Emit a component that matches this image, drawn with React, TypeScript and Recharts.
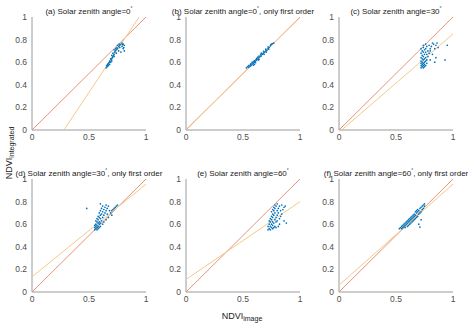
import { ScatterChart, Scatter, XAxis, YAxis } from "recharts";

type Pt = [number, number];

// panel titles and angle text (degree sign is drawn as a superscript)
const panelTitles: [string, string][] = [
  ["(a) Solar zenith angle=0", ""],
  ["(b) Solar zenith angle=0", ", only first order"],
  ["(c) Solar zenith angle=30", ""],
  ["(d) Solar zenith angle=30", ", only first order"],
  ["(e) Solar zenith angle=60", ""],
  ["(f) Solar zenith angle=60", ", only first order"],
];

const xTicks = [0, 0.5, 1];
const yTicks = [0, 0.2, 0.4, 0.6, 0.8, 1];

// fitted lines, [slope, intercept]
const fitLines: Pt[] = [
  [1.515, -0.424],
  [0.99, 0.005],
  [0.87, -0.02],
  [0.82, 0.134],
  [0.69, 0.11],
  [0.895, 0.06],
];

const pointsA: Pt[] = [
  [0.65, 0.55], [0.66, 0.56], [0.655, 0.57], [0.67, 0.57], [0.665, 0.58], [0.68, 0.58],
  [0.67, 0.59], [0.685, 0.6], [0.68, 0.61], [0.69, 0.6], [0.695, 0.62], [0.69, 0.63],
  [0.7, 0.63], [0.705, 0.64], [0.71, 0.65], [0.7, 0.66], [0.715, 0.66], [0.72, 0.67],
  [0.71, 0.68], [0.725, 0.69], [0.73, 0.7], [0.72, 0.71], [0.74, 0.71], [0.735, 0.72],
  [0.75, 0.72], [0.745, 0.73], [0.76, 0.74], [0.75, 0.75], [0.77, 0.75], [0.765, 0.76],
  [0.78, 0.76], [0.79, 0.77], [0.8, 0.76], [0.81, 0.75], [0.79, 0.74], [0.8, 0.72],
  [0.81, 0.7], [0.78, 0.69], [0.76, 0.7], [0.66, 0.575], [0.675, 0.595], [0.7, 0.61],
  [0.72, 0.65], [0.74, 0.68], [0.77, 0.73], [0.795, 0.755], [0.805, 0.73],
];

const pointsB: Pt[] = [
  [0.53, 0.55], [0.54, 0.56], [0.55, 0.555], [0.55, 0.57], [0.56, 0.565], [0.565, 0.58],
  [0.57, 0.57], [0.58, 0.585], [0.58, 0.6], [0.59, 0.59], [0.595, 0.605], [0.6, 0.6],
  [0.6, 0.615], [0.61, 0.61], [0.615, 0.625], [0.62, 0.62], [0.62, 0.635], [0.63, 0.63],
  [0.63, 0.645], [0.64, 0.64], [0.64, 0.655], [0.65, 0.65], [0.655, 0.665], [0.66, 0.655],
  [0.665, 0.675], [0.67, 0.67], [0.68, 0.68], [0.68, 0.695], [0.69, 0.69], [0.7, 0.7],
  [0.7, 0.715], [0.71, 0.705], [0.72, 0.72], [0.72, 0.735], [0.73, 0.73], [0.74, 0.745],
  [0.745, 0.755], [0.75, 0.76], [0.76, 0.765], [0.77, 0.77], [0.57, 0.585], [0.59, 0.575],
  [0.61, 0.595], [0.635, 0.62], [0.66, 0.68], [0.685, 0.67], [0.705, 0.69], [0.725, 0.715],
  [0.6, 0.58], [0.64, 0.625],
];

const pointsC: Pt[] = [
  [0.72, 0.55], [0.73, 0.56], [0.74, 0.55], [0.75, 0.56], [0.72, 0.57], [0.74, 0.57],
  [0.76, 0.57], [0.73, 0.58], [0.75, 0.58], [0.72, 0.59], [0.74, 0.59], [0.77, 0.59],
  [0.73, 0.6], [0.75, 0.6], [0.76, 0.61], [0.72, 0.61], [0.74, 0.62], [0.77, 0.62],
  [0.73, 0.63], [0.75, 0.63], [0.72, 0.64], [0.76, 0.64], [0.74, 0.65], [0.78, 0.65],
  [0.73, 0.66], [0.75, 0.67], [0.77, 0.67], [0.72, 0.68], [0.74, 0.69], [0.76, 0.69],
  [0.79, 0.68], [0.73, 0.7], [0.75, 0.71], [0.78, 0.7], [0.72, 0.72], [0.74, 0.73],
  [0.76, 0.72], [0.8, 0.72], [0.77, 0.74], [0.79, 0.75], [0.81, 0.74], [0.83, 0.76],
  [0.85, 0.75], [0.82, 0.77], [0.86, 0.77], [0.8, 0.7], [0.84, 0.72], [0.87, 0.73],
  [0.82, 0.67], [0.85, 0.64], [0.8, 0.62], [0.84, 0.6], [0.93, 0.62], [0.95, 0.75],
  [0.74, 0.75], [0.76, 0.76],
];

const pointsD: Pt[] = [
  [0.55, 0.55], [0.56, 0.56], [0.57, 0.55], [0.58, 0.56], [0.55, 0.57], [0.57, 0.57],
  [0.59, 0.57], [0.56, 0.58], [0.58, 0.58], [0.6, 0.58], [0.55, 0.59], [0.57, 0.59],
  [0.59, 0.6], [0.56, 0.6], [0.58, 0.61], [0.6, 0.61], [0.57, 0.62], [0.59, 0.62],
  [0.56, 0.63], [0.58, 0.64], [0.61, 0.63], [0.6, 0.65], [0.57, 0.65], [0.59, 0.66],
  [0.62, 0.66], [0.58, 0.67], [0.6, 0.68], [0.63, 0.68], [0.61, 0.69], [0.59, 0.7],
  [0.62, 0.71], [0.64, 0.7], [0.6, 0.72], [0.63, 0.73], [0.65, 0.72], [0.61, 0.74],
  [0.64, 0.75], [0.66, 0.74], [0.62, 0.76], [0.65, 0.77], [0.67, 0.76], [0.68, 0.72],
  [0.66, 0.69], [0.69, 0.7], [0.7, 0.72], [0.71, 0.73], [0.72, 0.74], [0.73, 0.75],
  [0.74, 0.76], [0.75, 0.77], [0.7, 0.68], [0.67, 0.66], [0.65, 0.64], [0.63, 0.62],
  [0.62, 0.6], [0.48, 0.74], [0.6, 0.78],
];

const pointsE: Pt[] = [
  [0.72, 0.55], [0.74, 0.55], [0.76, 0.56], [0.73, 0.56], [0.75, 0.57], [0.77, 0.57],
  [0.72, 0.58], [0.74, 0.58], [0.76, 0.59], [0.78, 0.58], [0.73, 0.6], [0.75, 0.6],
  [0.77, 0.61], [0.74, 0.62], [0.76, 0.62], [0.79, 0.62], [0.73, 0.63], [0.75, 0.64],
  [0.78, 0.64], [0.8, 0.63], [0.74, 0.65], [0.76, 0.66], [0.79, 0.66], [0.82, 0.65],
  [0.75, 0.67], [0.77, 0.68], [0.8, 0.68], [0.83, 0.67], [0.76, 0.69], [0.78, 0.7],
  [0.81, 0.7], [0.84, 0.69], [0.75, 0.71], [0.77, 0.72], [0.8, 0.72], [0.83, 0.72],
  [0.76, 0.73], [0.78, 0.74], [0.81, 0.74], [0.85, 0.73], [0.77, 0.75], [0.79, 0.76],
  [0.82, 0.76], [0.86, 0.75], [0.78, 0.77], [0.8, 0.78], [0.84, 0.77], [0.87, 0.76],
  [0.88, 0.61], [0.86, 0.63], [0.82, 0.6], [0.81, 0.58], [0.79, 0.57],
];

const pointsF: Pt[] = [
  [0.53, 0.56], [0.54, 0.57], [0.55, 0.56], [0.56, 0.57], [0.55, 0.58], [0.57, 0.58],
  [0.58, 0.57], [0.56, 0.59], [0.58, 0.59], [0.6, 0.58], [0.57, 0.6], [0.59, 0.6],
  [0.61, 0.59], [0.58, 0.61], [0.6, 0.61], [0.62, 0.6], [0.59, 0.62], [0.61, 0.62],
  [0.63, 0.61], [0.6, 0.63], [0.62, 0.63], [0.64, 0.62], [0.61, 0.64], [0.63, 0.64],
  [0.65, 0.63], [0.62, 0.65], [0.64, 0.65], [0.66, 0.64], [0.63, 0.66], [0.65, 0.66],
  [0.67, 0.65], [0.64, 0.67], [0.66, 0.67], [0.68, 0.66], [0.65, 0.68], [0.67, 0.68],
  [0.69, 0.67], [0.66, 0.69], [0.68, 0.7], [0.7, 0.69], [0.67, 0.71], [0.69, 0.71],
  [0.71, 0.7], [0.68, 0.72], [0.7, 0.72], [0.72, 0.71], [0.69, 0.73], [0.71, 0.74],
  [0.73, 0.73], [0.72, 0.75], [0.74, 0.74], [0.73, 0.76], [0.75, 0.76], [0.74, 0.77],
  [0.75, 0.78], [0.71, 0.575], [0.7, 0.6], [0.72, 0.64],
];

const panelPoints = [pointsA, pointsB, pointsC, pointsD, pointsE, pointsF];

const FONT = "'Liberation Sans', Arial, Helvetica, sans-serif";
const PLOT_W = 114;
const PLOT_H = 113;
const ML = 30;
const MT = 5;
const MR = 15;
const XH = 25;
const colLeft = [32, 186, 339];
const rowTop = [17, 179];

// clip y = m*x + b to the unit box, in data units
function clipLine(m: number, b: number) {
  let x0 = 0;
  let x1 = 1;
  if (m !== 0) {
    const xa = (0 - b) / m;
    const xb = (1 - b) / m;
    x0 = Math.max(0, Math.min(xa, xb));
    x1 = Math.min(1, Math.max(xa, xb));
  }
  return [
    { x: x0, y: m * x0 + b },
    { x: x1, y: m * x1 + b },
  ];
}

const Dot = (props: any) => (
  <circle cx={props.cx} cy={props.cy} r={0.85} fill="#0072BD" />
);
const NoDot = () => null;

function Panel({ idx }: { idx: number }) {
  const col = idx % 3;
  const row = Math.floor(idx / 3);
  const data = panelPoints[idx].map(([x, y]) => ({ x, y }));
  const [m, b] = fitLines[idx];
  const tickStyle = { fontSize: 8.5, fill: "#4d4d4d", fontFamily: FONT };
  return (
    <div
      style={{
        position: "absolute",
        left: colLeft[col] - ML,
        top: rowTop[row] - MT,
      }}
    >
      <ScatterChart
        width={ML + PLOT_W + MR}
        height={MT + PLOT_H + XH}
        margin={{ top: MT, right: MR, bottom: 0, left: 0 }}
      >
        <XAxis
          type="number"
          dataKey="x"
          domain={[0, 1]}
          ticks={xTicks}
          height={XH}
          tickLine={false}
          tickSize={4}
          tickMargin={0}
          axisLine={{ stroke: "#9a9a9a" }}
          tick={tickStyle}
          interval={0}
        />
        <YAxis
          type="number"
          dataKey="y"
          domain={[0, 1]}
          ticks={yTicks}
          width={ML}
          tickLine={false}
          tickSize={3}
          tickMargin={2}
          axisLine={{ stroke: "#9a9a9a" }}
          tick={tickStyle}
          interval={0}
        />
        <Scatter
          data={clipLine(1, 0)}
          line={{ stroke: "#e8937a", strokeWidth: 1 }}
          shape={NoDot}
          isAnimationActive={false}
        />
        <Scatter
          data={clipLine(m, b)}
          line={{ stroke: "#f4c98a", strokeWidth: 1 }}
          shape={NoDot}
          isAnimationActive={false}
        />
        <Scatter data={data} shape={Dot} isAnimationActive={false} />
      </ScatterChart>
    </div>
  );
}

export default function App() {
  return (
    <div
      style={{
        position: "absolute",
        left: 0,
        top: 0,
        width: 474,
        height: 328,
        background: "#fff",
      }}
    >
      {panelPoints.map((_, i) => (
        <Panel key={i} idx={i} />
      ))}
      <svg
        width={474}
        height={328}
        style={{ position: "absolute", left: 0, top: 0, pointerEvents: "none" }}
      >
        {panelTitles.map(([head, tail], i) => {
          const cx = colLeft[i % 3] + PLOT_W / 2;
          const y = rowTop[Math.floor(i / 3)] - 3;
          return (
            <text
              key={i}
              x={cx}
              y={y}
              textAnchor="middle"
              fontFamily={FONT}
              fontSize={8}
              fill="#1a1a1a"
            >
              {head}
              <tspan fontSize={5} dy={-4}>
                °
              </tspan>
              <tspan dy={4}>{tail}</tspan>
            </text>
          );
        })}
        <text
          transform="translate(12,153) rotate(-90)"
          textAnchor="middle"
          fontFamily={FONT}
          fontSize={9}
          fill="#1a1a1a"
        >
          NDVI
          <tspan fontSize={7} dy={2}>
            integrated
          </tspan>
        </text>
        <text
          x={242}
          y={318.5}
          textAnchor="middle"
          fontFamily={FONT}
          fontSize={9}
          fill="#1a1a1a"
        >
          NDVI
          <tspan fontSize={7} dy={2}>
            image
          </tspan>
        </text>
      </svg>
    </div>
  );
}
